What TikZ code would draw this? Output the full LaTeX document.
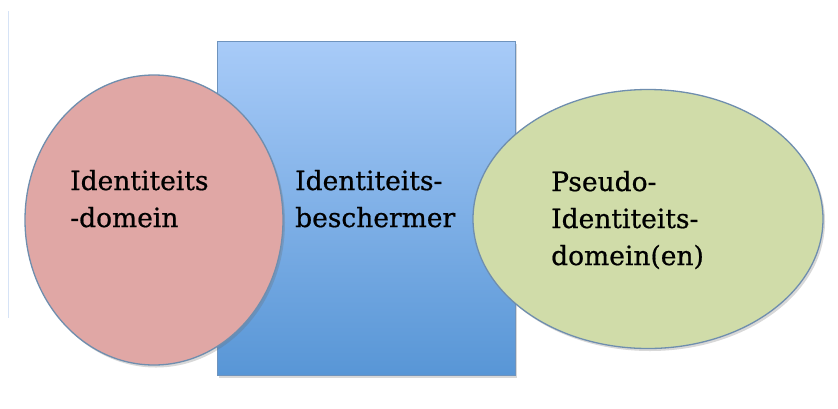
\documentclass[tikz,border=0pt]{standalone}
\usepackage{fontspec}
\setmainfont[FakeBold=0.7]{DejaVu Serif}
\usetikzlibrary{shapes.geometric,shadows}
\definecolor{boxtop}{HTML}{A8CBF8}
\definecolor{boxbot}{HTML}{5896D6}
\definecolor{boxedge}{HTML}{6E93BD}
\definecolor{redfill}{HTML}{E0A7A5}
\definecolor{greenfill}{HTML}{D0DCA9}
\definecolor{shapeedge}{HTML}{6F8EAE}
\definecolor{faintline}{HTML}{D6E3F6}
\tikzset{
  softshadow/.style={drop shadow={shadow xshift=2pt, shadow yshift=-2.5pt, opacity=0.25, fill=black!60}},
  lbl/.style={anchor=base west, align=left, inner sep=0pt,
    font=\fontsize{26.5}{37}\selectfont, text=black},
  blob/.style={ellipse, inner sep=0pt, draw=shapeedge, line width=1.3pt, softshadow},
}
\begin{document}
\begin{tikzpicture}[x=1pt, y=-1pt]
  \useasboundingbox (0,0) rectangle (838,408);
  \fill[white] (0,0) rectangle (838,408);
  % thin light rule on the left edge
  \draw[faintline, line width=1.5pt] (8.5,11) -- (8.5,318);
  % central protector block
  \node[rectangle, inner sep=0pt, minimum width=298pt, minimum height=334pt,
        top color=boxtop, bottom color=boxbot, draw=boxedge, line width=1pt,
        softshadow] (block) at (366,208) {};
  % the two domains
  \node[blob, fill=redfill, minimum width=258pt, minimum height=290pt] (left) at (154,220) {};
  \node[blob, fill=greenfill, minimum width=350pt, minimum height=259pt] (right) at (648,219) {};
  % labels (anchored at the baseline of their last line)
  \node[lbl] (tleft) at (70,227) {Identiteits\\-domein};
  \node[lbl] (tmid) at (295,227) {Identiteits-\\beschermer};
  \node[lbl] (tright) at (551,265) {Pseudo-\\Identiteits-\\domein(en)};
\end{tikzpicture}
\end{document}
